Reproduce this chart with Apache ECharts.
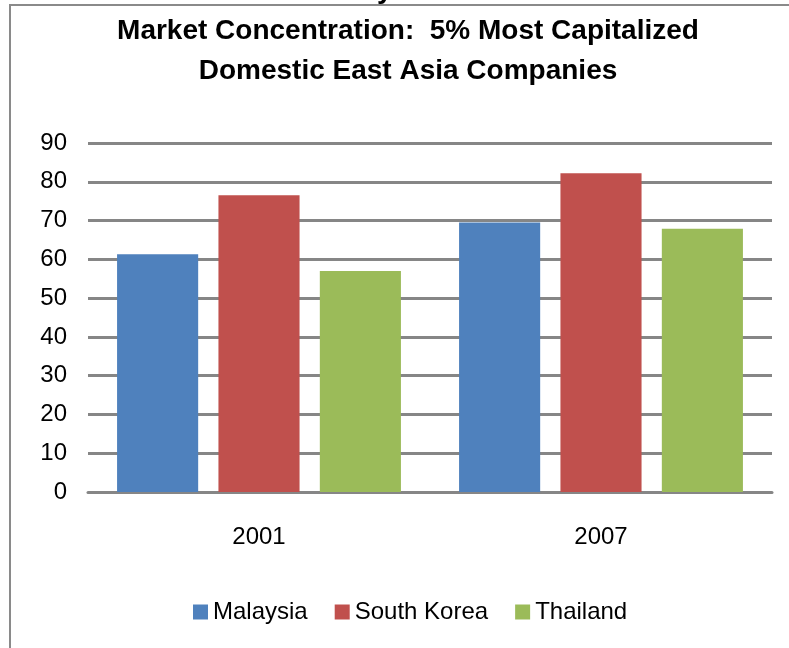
<!DOCTYPE html>
<html>
<head>
<meta charset="utf-8">
<script src="https://cdn.jsdelivr.net/npm/echarts@6/dist/echarts.min.js"></script>
<style>
html,body{margin:0;padding:0;background:#fff;}
#chart{width:789px;height:648px;}
</style>
</head>
<body>
<div id="chart"></div>
<script>
const titleText = 'Market Concentration:  5% Most Capitalized\nDomestic East Asia Companies';
const categories = ['2001', '2007'];
const seriesNames = ['Malaysia', 'South Korea', 'Thailand'];
const malaysia = [61.3, 69.5];
const southKorea = [76.5, 82.2];
const thailand = [57.0, 67.9];
const yTicks = [0, 10, 20, 30, 40, 50, 60, 70, 80, 90];

const colors = ['#4F81BD', '#C0504D', '#9BBB59'];
const font = "'Liberation Sans', Arial, sans-serif";
const seriesData = [malaysia, southKorea, thailand];

const chart = echarts.init(document.getElementById('chart'), null, {renderer: 'canvas'});
chart.setOption({
  animation: false,
  backgroundColor: '#ffffff',
  title: {
    text: titleText,
    left: 403,
    textAlign: 'center',
    top: 6,
    textStyle: {
      fontFamily: font,
      fontWeight: 'bold',
      fontSize: 28,
      lineHeight: 40,
      color: '#000'
    }
  },
  legend: {
    data: seriesNames,
    left: 188,
    top: 595,
    itemWidth: 15,
    itemHeight: 15,
    itemGap: 27,
    icon: 'rect',
    textStyle: {fontFamily: font, fontSize: 24, color: '#000'}
  },
  grid: {left: 88, right: 17, top: 143, bottom: 156},
  xAxis: {
    type: 'category',
    data: categories,
    axisLine: {show: true, lineStyle: {color: '#868686', width: 3}},
    axisTick: {show: false},
    axisLabel: {fontFamily: font, fontSize: 24, color: '#000', margin: 33}
  },
  yAxis: {
    type: 'value',
    min: yTicks[0],
    max: yTicks[yTicks.length - 1],
    interval: 10,
    axisLine: {show: false},
    axisTick: {show: false},
    axisLabel: {fontFamily: font, fontSize: 24, color: '#000', margin: 21},
    splitLine: {show: true, lineStyle: {color: '#868686', width: 3}}
  },
  series: seriesNames.map((name, i) => ({
    name: name,
    type: 'bar',
    data: seriesData[i],
    barGap: '25%',
    barCategoryGap: '17%',
    itemStyle: {color: colors[i]}
  })),
  graphic: [
    {
      type: 'text',
      left: 377,
      top: -24,
      z: 1,
      style: {text: 'y', fontFamily: font, fontWeight: 'bold', fontSize: 28, fill: '#000'}
    },
    {
      type: 'polyline',
      z: 10,
      shape: {points: [[10, 648], [10, 5], [789, 5]]},
      style: {stroke: '#8a8a8a', lineWidth: 2, fill: null}
    }
  ]
});
</script>
</body>
</html>
